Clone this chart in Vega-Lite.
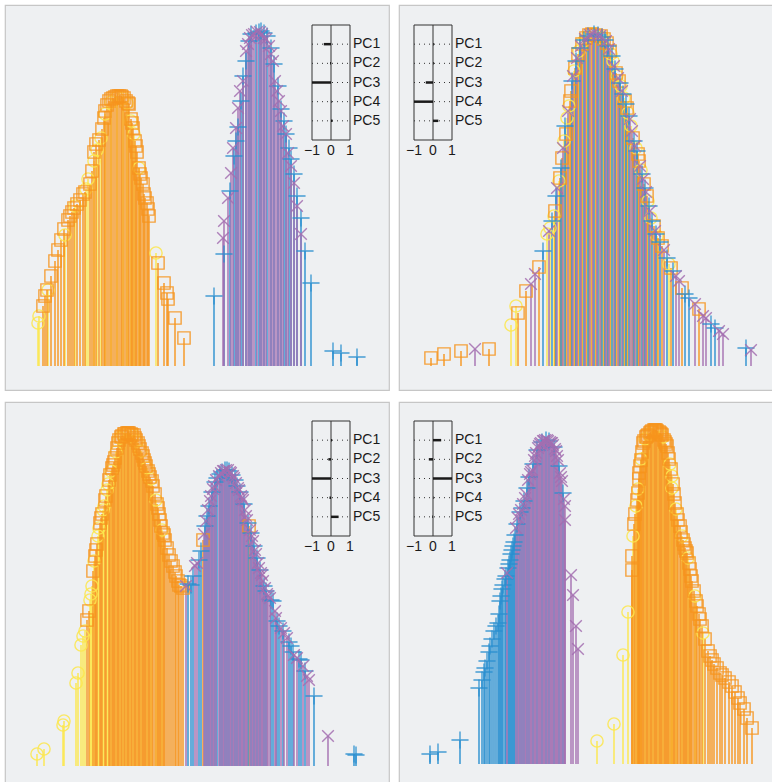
{
"$schema":"https://vega.github.io/schema/vega-lite/v6.json",
"padding":{"left":4,"top":4,"right":0,"bottom":0},
"background":"white",
"config":{"view":{"fill":"#eef0f2","stroke":"#c6c6c6","strokeWidth":1.2},"scale":{"continuousPadding":0}},
"datasets":{
"ticks":[{"v":-1},{"v":0},{"v":1}],
"load":[
{"p":1,"pc":1,"v":-0.38,"lab":"PC1"},{"p":1,"pc":2,"v":-0.05,"lab":"PC2"},{"p":1,"pc":3,"v":-1,"lab":"PC3"},{"p":1,"pc":4,"v":0.03,"lab":"PC4"},{"p":1,"pc":5,"v":0.08,"lab":"PC5"},
{"p":2,"pc":1,"v":0.04,"lab":"PC1"},{"p":2,"pc":2,"v":0.04,"lab":"PC2"},{"p":2,"pc":3,"v":-0.38,"lab":"PC3"},{"p":2,"pc":4,"v":-1,"lab":"PC4"},{"p":2,"pc":5,"v":0.28,"lab":"PC5"},
{"p":3,"pc":1,"v":0.05,"lab":"PC1"},{"p":3,"pc":2,"v":-0.14,"lab":"PC2"},{"p":3,"pc":3,"v":-1,"lab":"PC3"},{"p":3,"pc":4,"v":-0.08,"lab":"PC4"},{"p":3,"pc":5,"v":0.4,"lab":"PC5"},
{"p":4,"pc":1,"v":0.43,"lab":"PC1"},{"p":4,"pc":2,"v":-0.22,"lab":"PC2"},{"p":4,"pc":3,"v":1,"lab":"PC3"},{"p":4,"pc":4,"v":0.03,"lab":"PC4"},{"p":4,"pc":5,"v":-0.04,"lab":"PC5"}
],
"stems":[
{"p":1,"g":"y","x":33,"h":43},{"p":1,"g":"y","x":34,"h":50},{"p":1,"g":"y","x":43,"h":76},{"p":1,"g":"y","x":60,"h":131},{"p":1,"g":"y","x":70,"h":160},{"p":1,"g":"y","x":81,"h":177},{"p":1,"g":"y","x":83,"h":187},{"p":1,"g":"y","x":89,"h":205},{"p":1,"g":"y","x":92,"h":216},{"p":1,"g":"y","x":96,"h":228},{"p":1,"g":"y","x":100,"h":252},{"p":1,"g":"y","x":106,"h":264},{"p":1,"g":"y","x":112,"h":269},{"p":1,"g":"y","x":118,"h":268},{"p":1,"g":"y","x":122,"h":263},{"p":1,"g":"y","x":126,"h":245},{"p":1,"g":"y","x":129,"h":232},{"p":1,"g":"y","x":134,"h":198},{"p":1,"g":"y","x":151,"h":113},
{"p":1,"g":"o","x":38,"h":60},{"p":1,"g":"o","x":40,"h":70},{"p":1,"g":"o","x":42,"h":76},{"p":1,"g":"o","x":46,"h":90},{"p":1,"g":"o","x":50,"h":105},{"p":1,"g":"o","x":53,"h":116},{"p":1,"g":"o","x":56,"h":126},{"p":1,"g":"o","x":59,"h":137},{"p":1,"g":"o","x":63,"h":146},{"p":1,"g":"o","x":65,"h":150},{"p":1,"g":"o","x":67,"h":154},{"p":1,"g":"o","x":69,"h":158},{"p":1,"g":"o","x":72,"h":162},{"p":1,"g":"o","x":75,"h":166},{"p":1,"g":"o","x":78,"h":172},{"p":1,"g":"o","x":80,"h":174},{"p":1,"g":"o","x":85,"h":182},{"p":1,"g":"o","x":87,"h":195},{"p":1,"g":"o","x":89,"h":214},{"p":1,"g":"o","x":91,"h":222},{"p":1,"g":"o","x":94,"h":226},{"p":1,"g":"o","x":97,"h":237},{"p":1,"g":"o","x":99,"h":248},{"p":1,"g":"o","x":100,"h":255},{"p":1,"g":"o","x":102,"h":261},{"p":1,"g":"o","x":104,"h":265},{"p":1,"g":"o","x":106,"h":267},{"p":1,"g":"o","x":108,"h":268},{"p":1,"g":"o","x":110,"h":269},{"p":1,"g":"o","x":112,"h":270},{"p":1,"g":"o","x":114,"h":270},{"p":1,"g":"o","x":116,"h":270},{"p":1,"g":"o","x":117,"h":269},{"p":1,"g":"o","x":119,"h":268},{"p":1,"g":"o","x":121,"h":265},{"p":1,"g":"o","x":123,"h":263},{"p":1,"g":"o","x":124,"h":262},{"p":1,"g":"o","x":126,"h":247},{"p":1,"g":"o","x":127,"h":243},{"p":1,"g":"o","x":128,"h":238},{"p":1,"g":"o","x":130,"h":225},{"p":1,"g":"o","x":131,"h":220},{"p":1,"g":"o","x":132,"h":214},{"p":1,"g":"o","x":134,"h":198},{"p":1,"g":"o","x":135,"h":192},{"p":1,"g":"o","x":136,"h":188},{"p":1,"g":"o","x":138,"h":182},{"p":1,"g":"o","x":139,"h":172},{"p":1,"g":"o","x":140,"h":168},{"p":1,"g":"o","x":142,"h":163},{"p":1,"g":"o","x":143,"h":157},{"p":1,"g":"o","x":144,"h":150},{"p":1,"g":"o","x":153,"h":103},{"p":1,"g":"o","x":159,"h":83},{"p":1,"g":"o","x":162,"h":73},{"p":1,"g":"o","x":163,"h":67},{"p":1,"g":"o","x":170,"h":48},{"p":1,"g":"o","x":179,"h":28},
{"p":1,"g":"b","x":209,"h":70},{"p":1,"g":"b","x":219,"h":112},{"p":1,"g":"b","x":225,"h":175},{"p":1,"g":"b","x":229,"h":210},{"p":1,"g":"b","x":231,"h":225},{"p":1,"g":"b","x":233,"h":239},{"p":1,"g":"b","x":236,"h":265},{"p":1,"g":"b","x":238,"h":290},{"p":1,"g":"b","x":241,"h":305},{"p":1,"g":"b","x":244,"h":325},{"p":1,"g":"b","x":246,"h":332},{"p":1,"g":"b","x":251,"h":333},{"p":1,"g":"b","x":254,"h":334},{"p":1,"g":"b","x":256,"h":335},{"p":1,"g":"b","x":259,"h":333},{"p":1,"g":"b","x":262,"h":330},{"p":1,"g":"b","x":266,"h":318},{"p":1,"g":"b","x":269,"h":302},{"p":1,"g":"b","x":273,"h":280},{"p":1,"g":"b","x":276,"h":257},{"p":1,"g":"b","x":279,"h":245},{"p":1,"g":"b","x":281,"h":232},{"p":1,"g":"b","x":284,"h":218},{"p":1,"g":"b","x":286,"h":207},{"p":1,"g":"b","x":289,"h":192},{"p":1,"g":"b","x":292,"h":170},{"p":1,"g":"b","x":296,"h":148},{"p":1,"g":"b","x":300,"h":115},{"p":1,"g":"b","x":306,"h":83},{"p":1,"g":"b","x":328,"h":15},{"p":1,"g":"b","x":336,"h":13},{"p":1,"g":"b","x":352,"h":9},
{"p":1,"g":"u","x":218,"h":128},{"p":1,"g":"u","x":219,"h":145},{"p":1,"g":"u","x":223,"h":168},{"p":1,"g":"u","x":226,"h":193},{"p":1,"g":"u","x":228,"h":218},{"p":1,"g":"u","x":231,"h":238},{"p":1,"g":"u","x":233,"h":258},{"p":1,"g":"u","x":235,"h":275},{"p":1,"g":"u","x":238,"h":285},{"p":1,"g":"u","x":241,"h":315},{"p":1,"g":"u","x":243,"h":322},{"p":1,"g":"u","x":245,"h":328},{"p":1,"g":"u","x":247,"h":331},{"p":1,"g":"u","x":249,"h":332},{"p":1,"g":"u","x":252,"h":334},{"p":1,"g":"u","x":255,"h":334},{"p":1,"g":"u","x":257,"h":332},{"p":1,"g":"u","x":259,"h":328},{"p":1,"g":"u","x":261,"h":327},{"p":1,"g":"u","x":264,"h":320},{"p":1,"g":"u","x":266,"h":312},{"p":1,"g":"u","x":268,"h":305},{"p":1,"g":"u","x":270,"h":285},{"p":1,"g":"u","x":272,"h":275},{"p":1,"g":"u","x":274,"h":265},{"p":1,"g":"u","x":276,"h":255},{"p":1,"g":"u","x":278,"h":240},{"p":1,"g":"u","x":281,"h":232},{"p":1,"g":"u","x":283,"h":213},{"p":1,"g":"u","x":286,"h":200},{"p":1,"g":"u","x":289,"h":183},{"p":1,"g":"u","x":292,"h":160},{"p":1,"g":"u","x":296,"h":132},

{"p":2,"g":"y","x":112,"h":41},{"p":2,"g":"y","x":117,"h":60},{"p":2,"g":"y","x":148,"h":132},{"p":2,"g":"y","x":151,"h":138},{"p":2,"g":"y","x":155,"h":150},{"p":2,"g":"y","x":160,"h":185},{"p":2,"g":"y","x":165,"h":225},{"p":2,"g":"y","x":168,"h":248},{"p":2,"g":"y","x":170,"h":260},{"p":2,"g":"y","x":175,"h":295},{"p":2,"g":"y","x":180,"h":315},{"p":2,"g":"y","x":184,"h":324},{"p":2,"g":"y","x":188,"h":329},{"p":2,"g":"y","x":192,"h":332},{"p":2,"g":"y","x":196,"h":332},{"p":2,"g":"y","x":200,"h":330},{"p":2,"g":"y","x":204,"h":328},{"p":2,"g":"y","x":212,"h":312},{"p":2,"g":"y","x":214,"h":305},{"p":2,"g":"y","x":218,"h":290},{"p":2,"g":"y","x":222,"h":280},{"p":2,"g":"y","x":225,"h":268},{"p":2,"g":"y","x":229,"h":253},{"p":2,"g":"y","x":232,"h":240},{"p":2,"g":"y","x":237,"h":218},{"p":2,"g":"y","x":242,"h":196},{"p":2,"g":"y","x":249,"h":165},{"p":2,"g":"y","x":252,"h":148},{"p":2,"g":"y","x":258,"h":130},{"p":2,"g":"y","x":270,"h":102},
{"p":2,"g":"o","x":32,"h":8},{"p":2,"g":"o","x":45,"h":12},{"p":2,"g":"o","x":62,"h":15},{"p":2,"g":"o","x":90,"h":17},{"p":2,"g":"o","x":119,"h":53},{"p":2,"g":"o","x":127,"h":75},{"p":2,"g":"o","x":140,"h":99},{"p":2,"g":"o","x":156,"h":155},{"p":2,"g":"o","x":161,"h":188},{"p":2,"g":"o","x":163,"h":208},{"p":2,"g":"o","x":167,"h":232},{"p":2,"g":"o","x":171,"h":265},{"p":2,"g":"o","x":172,"h":275},{"p":2,"g":"o","x":176,"h":298},{"p":2,"g":"o","x":179,"h":312},{"p":2,"g":"o","x":183,"h":322},{"p":2,"g":"o","x":187,"h":328},{"p":2,"g":"o","x":190,"h":331},{"p":2,"g":"o","x":193,"h":332},{"p":2,"g":"o","x":197,"h":331},{"p":2,"g":"o","x":202,"h":330},{"p":2,"g":"o","x":205,"h":327},{"p":2,"g":"o","x":208,"h":323},{"p":2,"g":"o","x":211,"h":315},{"p":2,"g":"o","x":217,"h":293},{"p":2,"g":"o","x":220,"h":285},{"p":2,"g":"o","x":226,"h":265},{"p":2,"g":"o","x":228,"h":258},{"p":2,"g":"o","x":234,"h":228},{"p":2,"g":"o","x":239,"h":212},{"p":2,"g":"o","x":240,"h":205},{"p":2,"g":"o","x":245,"h":182},{"p":2,"g":"o","x":248,"h":170},{"p":2,"g":"o","x":255,"h":140},{"p":2,"g":"o","x":259,"h":128},{"p":2,"g":"o","x":263,"h":120},{"p":2,"g":"o","x":272,"h":98},{"p":2,"g":"o","x":283,"h":78},{"p":2,"g":"o","x":300,"h":57},
{"p":2,"g":"b","x":144,"h":115},{"p":2,"g":"b","x":153,"h":145},{"p":2,"g":"b","x":157,"h":170},{"p":2,"g":"b","x":162,"h":198},{"p":2,"g":"b","x":166,"h":240},{"p":2,"g":"b","x":173,"h":285},{"p":2,"g":"b","x":177,"h":305},{"p":2,"g":"b","x":181,"h":318},{"p":2,"g":"b","x":185,"h":326},{"p":2,"g":"b","x":189,"h":330},{"p":2,"g":"b","x":195,"h":332},{"p":2,"g":"b","x":199,"h":331},{"p":2,"g":"b","x":203,"h":329},{"p":2,"g":"b","x":206,"h":326},{"p":2,"g":"b","x":209,"h":320},{"p":2,"g":"b","x":213,"h":310},{"p":2,"g":"b","x":216,"h":297},{"p":2,"g":"b","x":221,"h":283},{"p":2,"g":"b","x":224,"h":272},{"p":2,"g":"b","x":227,"h":262},{"p":2,"g":"b","x":230,"h":250},{"p":2,"g":"b","x":235,"h":225},{"p":2,"g":"b","x":238,"h":215},{"p":2,"g":"b","x":243,"h":192},{"p":2,"g":"b","x":246,"h":178},{"p":2,"g":"b","x":250,"h":160},{"p":2,"g":"b","x":253,"h":145},{"p":2,"g":"b","x":257,"h":132},{"p":2,"g":"b","x":261,"h":124},{"p":2,"g":"b","x":268,"h":108},{"p":2,"g":"b","x":274,"h":95},{"p":2,"g":"b","x":286,"h":72},{"p":2,"g":"b","x":290,"h":68},{"p":2,"g":"b","x":312,"h":42},{"p":2,"g":"b","x":316,"h":38},{"p":2,"g":"b","x":347,"h":18},
{"p":2,"g":"u","x":76,"h":17},{"p":2,"g":"u","x":132,"h":82},{"p":2,"g":"u","x":136,"h":92},{"p":2,"g":"u","x":150,"h":135},{"p":2,"g":"u","x":158,"h":178},{"p":2,"g":"u","x":164,"h":218},{"p":2,"g":"u","x":169,"h":255},{"p":2,"g":"u","x":174,"h":290},{"p":2,"g":"u","x":178,"h":308},{"p":2,"g":"u","x":182,"h":320},{"p":2,"g":"u","x":186,"h":327},{"p":2,"g":"u","x":191,"h":331},{"p":2,"g":"u","x":194,"h":332},{"p":2,"g":"u","x":198,"h":331},{"p":2,"g":"u","x":201,"h":330},{"p":2,"g":"u","x":207,"h":325},{"p":2,"g":"u","x":210,"h":317},{"p":2,"g":"u","x":215,"h":300},{"p":2,"g":"u","x":219,"h":288},{"p":2,"g":"u","x":223,"h":275},{"p":2,"g":"u","x":231,"h":247},{"p":2,"g":"u","x":233,"h":235},{"p":2,"g":"u","x":236,"h":220},{"p":2,"g":"u","x":241,"h":200},{"p":2,"g":"u","x":244,"h":187},{"p":2,"g":"u","x":247,"h":174},{"p":2,"g":"u","x":251,"h":155},{"p":2,"g":"u","x":256,"h":135},{"p":2,"g":"u","x":265,"h":116},{"p":2,"g":"u","x":277,"h":90},{"p":2,"g":"u","x":280,"h":85},{"p":2,"g":"u","x":296,"h":62},{"p":2,"g":"u","x":304,"h":50},{"p":2,"g":"u","x":307,"h":48},{"p":2,"g":"u","x":320,"h":35},{"p":2,"g":"u","x":324,"h":32},{"p":2,"g":"u","x":352,"h":16},

{"p":3,"g":"y","x":32,"h":12},{"p":3,"g":"y","x":39,"h":17},{"p":3,"g":"y","x":58,"h":41},{"p":3,"g":"y","x":59,"h":45},{"p":3,"g":"y","x":71,"h":83},{"p":3,"g":"y","x":73,"h":93},{"p":3,"g":"y","x":76,"h":121},{"p":3,"g":"y","x":78,"h":130},{"p":3,"g":"y","x":80,"h":135},{"p":3,"g":"y","x":85,"h":166},{"p":3,"g":"y","x":86,"h":172},{"p":3,"g":"y","x":87,"h":180},{"p":3,"g":"y","x":89,"h":205},{"p":3,"g":"y","x":93,"h":230},{"p":3,"g":"y","x":94,"h":238},{"p":3,"g":"y","x":98,"h":256},{"p":3,"g":"y","x":99,"h":260},{"p":3,"g":"y","x":102,"h":276},{"p":3,"g":"y","x":103,"h":282},{"p":3,"g":"y","x":106,"h":295},{"p":3,"g":"y","x":111,"h":314},{"p":3,"g":"y","x":115,"h":328},{"p":3,"g":"y","x":118,"h":331},{"p":3,"g":"y","x":121,"h":333},{"p":3,"g":"y","x":125,"h":332},{"p":3,"g":"y","x":128,"h":331},{"p":3,"g":"y","x":132,"h":325},{"p":3,"g":"y","x":136,"h":315},{"p":3,"g":"y","x":142,"h":298},{"p":3,"g":"y","x":146,"h":287},{"p":3,"g":"y","x":151,"h":266},{"p":3,"g":"y","x":157,"h":236},
{"p":3,"g":"o","x":82,"h":146},{"p":3,"g":"o","x":84,"h":155},{"p":3,"g":"o","x":88,"h":195},{"p":3,"g":"o","x":90,"h":210},{"p":3,"g":"o","x":91,"h":216},{"p":3,"g":"o","x":92,"h":222},{"p":3,"g":"o","x":95,"h":243},{"p":3,"g":"o","x":96,"h":248},{"p":3,"g":"o","x":97,"h":252},{"p":3,"g":"o","x":100,"h":266},{"p":3,"g":"o","x":101,"h":270},{"p":3,"g":"o","x":104,"h":286},{"p":3,"g":"o","x":105,"h":291},{"p":3,"g":"o","x":107,"h":298},{"p":3,"g":"o","x":108,"h":301},{"p":3,"g":"o","x":109,"h":304},{"p":3,"g":"o","x":110,"h":308},{"p":3,"g":"o","x":112,"h":318},{"p":3,"g":"o","x":113,"h":323},{"p":3,"g":"o","x":114,"h":326},{"p":3,"g":"o","x":116,"h":329},{"p":3,"g":"o","x":117,"h":330},{"p":3,"g":"o","x":119,"h":332},{"p":3,"g":"o","x":120,"h":332},{"p":3,"g":"o","x":122,"h":333},{"p":3,"g":"o","x":123,"h":333},{"p":3,"g":"o","x":124,"h":333},{"p":3,"g":"o","x":126,"h":332},{"p":3,"g":"o","x":127,"h":331},{"p":3,"g":"o","x":129,"h":331},{"p":3,"g":"o","x":130,"h":328},{"p":3,"g":"o","x":131,"h":326},{"p":3,"g":"o","x":133,"h":323},{"p":3,"g":"o","x":134,"h":320},{"p":3,"g":"o","x":135,"h":317},{"p":3,"g":"o","x":137,"h":313},{"p":3,"g":"o","x":138,"h":310},{"p":3,"g":"o","x":139,"h":306},{"p":3,"g":"o","x":140,"h":303},{"p":3,"g":"o","x":141,"h":300},{"p":3,"g":"o","x":143,"h":295},{"p":3,"g":"o","x":144,"h":292},{"p":3,"g":"o","x":145,"h":289},{"p":3,"g":"o","x":147,"h":285},{"p":3,"g":"o","x":148,"h":280},{"p":3,"g":"o","x":150,"h":272},{"p":3,"g":"o","x":152,"h":262},{"p":3,"g":"o","x":153,"h":258},{"p":3,"g":"o","x":154,"h":252},{"p":3,"g":"o","x":155,"h":246},{"p":3,"g":"o","x":156,"h":240},{"p":3,"g":"o","x":158,"h":233},{"p":3,"g":"o","x":159,"h":231},{"p":3,"g":"o","x":160,"h":226},{"p":3,"g":"o","x":162,"h":218},{"p":3,"g":"o","x":164,"h":211},{"p":3,"g":"o","x":166,"h":205},{"p":3,"g":"o","x":168,"h":200},{"p":3,"g":"o","x":170,"h":194},{"p":3,"g":"o","x":171,"h":190},{"p":3,"g":"o","x":173,"h":185},{"p":3,"g":"o","x":174,"h":181},{"p":3,"g":"o","x":176,"h":180},{"p":3,"g":"o","x":178,"h":178},{"p":3,"g":"o","x":198,"h":226},{"p":3,"g":"o","x":244,"h":240},
{"p":3,"g":"b","x":183,"h":182},{"p":3,"g":"b","x":186,"h":181},{"p":3,"g":"b","x":188,"h":190},{"p":3,"g":"b","x":194,"h":206},{"p":3,"g":"b","x":196,"h":215},{"p":3,"g":"b","x":200,"h":240},{"p":3,"g":"b","x":202,"h":250},{"p":3,"g":"b","x":204,"h":260},{"p":3,"g":"b","x":207,"h":274},{"p":3,"g":"b","x":210,"h":284},{"p":3,"g":"b","x":212,"h":288},{"p":3,"g":"b","x":215,"h":292},{"p":3,"g":"b","x":217,"h":294},{"p":3,"g":"b","x":220,"h":296},{"p":3,"g":"b","x":222,"h":296},{"p":3,"g":"b","x":224,"h":295},{"p":3,"g":"b","x":227,"h":291},{"p":3,"g":"b","x":230,"h":286},{"p":3,"g":"b","x":232,"h":280},{"p":3,"g":"b","x":235,"h":274},{"p":3,"g":"b","x":239,"h":262},{"p":3,"g":"b","x":243,"h":243},{"p":3,"g":"b","x":246,"h":233},{"p":3,"g":"b","x":249,"h":220},{"p":3,"g":"b","x":252,"h":208},{"p":3,"g":"b","x":255,"h":196},{"p":3,"g":"b","x":259,"h":180},{"p":3,"g":"b","x":261,"h":175},{"p":3,"g":"b","x":266,"h":166},{"p":3,"g":"b","x":268,"h":165},{"p":3,"g":"b","x":272,"h":145},{"p":3,"g":"b","x":274,"h":140},{"p":3,"g":"b","x":278,"h":135},{"p":3,"g":"b","x":284,"h":124},{"p":3,"g":"b","x":286,"h":120},{"p":3,"g":"b","x":288,"h":114},{"p":3,"g":"b","x":294,"h":107},{"p":3,"g":"b","x":296,"h":106},{"p":3,"g":"b","x":300,"h":95},{"p":3,"g":"b","x":309,"h":70},{"p":3,"g":"b","x":349,"h":12},{"p":3,"g":"b","x":351,"h":11},
{"p":3,"g":"u","x":181,"h":180},{"p":3,"g":"u","x":190,"h":200},{"p":3,"g":"u","x":192,"h":203},{"p":3,"g":"u","x":199,"h":232},{"p":3,"g":"u","x":201,"h":245},{"p":3,"g":"u","x":203,"h":256},{"p":3,"g":"u","x":205,"h":265},{"p":3,"g":"u","x":206,"h":270},{"p":3,"g":"u","x":208,"h":277},{"p":3,"g":"u","x":209,"h":280},{"p":3,"g":"u","x":211,"h":286},{"p":3,"g":"u","x":214,"h":290},{"p":3,"g":"u","x":216,"h":293},{"p":3,"g":"u","x":218,"h":295},{"p":3,"g":"u","x":219,"h":295},{"p":3,"g":"u","x":221,"h":296},{"p":3,"g":"u","x":223,"h":296},{"p":3,"g":"u","x":225,"h":294},{"p":3,"g":"u","x":226,"h":293},{"p":3,"g":"u","x":228,"h":290},{"p":3,"g":"u","x":229,"h":288},{"p":3,"g":"u","x":231,"h":283},{"p":3,"g":"u","x":233,"h":278},{"p":3,"g":"u","x":234,"h":276},{"p":3,"g":"u","x":236,"h":270},{"p":3,"g":"u","x":237,"h":268},{"p":3,"g":"u","x":238,"h":266},{"p":3,"g":"u","x":240,"h":256},{"p":3,"g":"u","x":241,"h":250},{"p":3,"g":"u","x":242,"h":246},{"p":3,"g":"u","x":245,"h":236},{"p":3,"g":"u","x":247,"h":230},{"p":3,"g":"u","x":248,"h":225},{"p":3,"g":"u","x":250,"h":216},{"p":3,"g":"u","x":251,"h":212},{"p":3,"g":"u","x":253,"h":203},{"p":3,"g":"u","x":254,"h":198},{"p":3,"g":"u","x":256,"h":193},{"p":3,"g":"u","x":257,"h":191},{"p":3,"g":"u","x":258,"h":185},{"p":3,"g":"u","x":260,"h":178},{"p":3,"g":"u","x":262,"h":172},{"p":3,"g":"u","x":263,"h":170},{"p":3,"g":"u","x":265,"h":168},{"p":3,"g":"u","x":270,"h":155},{"p":3,"g":"u","x":271,"h":148},{"p":3,"g":"u","x":276,"h":138},{"p":3,"g":"u","x":279,"h":133},{"p":3,"g":"u","x":282,"h":128},{"p":3,"g":"u","x":289,"h":111},{"p":3,"g":"u","x":292,"h":108},{"p":3,"g":"u","x":298,"h":100},{"p":3,"g":"u","x":302,"h":90},{"p":3,"g":"u","x":304,"h":86},{"p":3,"g":"u","x":323,"h":30},

{"p":4,"g":"y","x":198,"h":23},{"p":4,"g":"y","x":215,"h":40},{"p":4,"g":"y","x":224,"h":109},{"p":4,"g":"y","x":229,"h":152},{"p":4,"g":"y","x":234,"h":228},{"p":4,"g":"y","x":237,"h":258},{"p":4,"g":"y","x":239,"h":275},{"p":4,"g":"y","x":242,"h":305},{"p":4,"g":"y","x":246,"h":325},{"p":4,"g":"y","x":250,"h":330},{"p":4,"g":"y","x":254,"h":333},{"p":4,"g":"y","x":259,"h":333},{"p":4,"g":"y","x":264,"h":327},{"p":4,"g":"y","x":271,"h":300},{"p":4,"g":"y","x":273,"h":288},{"p":4,"g":"y","x":273,"h":276},{"p":4,"g":"y","x":277,"h":255},{"p":4,"g":"y","x":283,"h":228},{"p":4,"g":"y","x":289,"h":206},{"p":4,"g":"y","x":296,"h":168},{"p":4,"g":"y","x":304,"h":131},
{"p":4,"g":"o","x":233,"h":194},{"p":4,"g":"o","x":233,"h":208},{"p":4,"g":"o","x":235,"h":240},{"p":4,"g":"o","x":236,"h":250},{"p":4,"g":"o","x":238,"h":264},{"p":4,"g":"o","x":239,"h":271},{"p":4,"g":"o","x":240,"h":285},{"p":4,"g":"o","x":240,"h":291},{"p":4,"g":"o","x":241,"h":298},{"p":4,"g":"o","x":242,"h":304},{"p":4,"g":"o","x":243,"h":312},{"p":4,"g":"o","x":244,"h":321},{"p":4,"g":"o","x":245,"h":323},{"p":4,"g":"o","x":247,"h":327},{"p":4,"g":"o","x":248,"h":328},{"p":4,"g":"o","x":249,"h":329},{"p":4,"g":"o","x":251,"h":331},{"p":4,"g":"o","x":252,"h":332},{"p":4,"g":"o","x":253,"h":333},{"p":4,"g":"o","x":255,"h":334},{"p":4,"g":"o","x":256,"h":334},{"p":4,"g":"o","x":257,"h":334},{"p":4,"g":"o","x":258,"h":333},{"p":4,"g":"o","x":260,"h":332},{"p":4,"g":"o","x":261,"h":331},{"p":4,"g":"o","x":262,"h":330},{"p":4,"g":"o","x":263,"h":329},{"p":4,"g":"o","x":265,"h":324},{"p":4,"g":"o","x":266,"h":322},{"p":4,"g":"o","x":267,"h":320},{"p":4,"g":"o","x":268,"h":318},{"p":4,"g":"o","x":269,"h":311},{"p":4,"g":"o","x":270,"h":305},{"p":4,"g":"o","x":272,"h":295},{"p":4,"g":"o","x":274,"h":280},{"p":4,"g":"o","x":275,"h":270},{"p":4,"g":"o","x":276,"h":261},{"p":4,"g":"o","x":278,"h":250},{"p":4,"g":"o","x":279,"h":244},{"p":4,"g":"o","x":281,"h":238},{"p":4,"g":"o","x":282,"h":232},{"p":4,"g":"o","x":284,"h":224},{"p":4,"g":"o","x":285,"h":220},{"p":4,"g":"o","x":286,"h":216},{"p":4,"g":"o","x":287,"h":213},{"p":4,"g":"o","x":288,"h":211},{"p":4,"g":"o","x":290,"h":201},{"p":4,"g":"o","x":291,"h":195},{"p":4,"g":"o","x":292,"h":188},{"p":4,"g":"o","x":293,"h":183},{"p":4,"g":"o","x":295,"h":173},{"p":4,"g":"o","x":297,"h":163},{"p":4,"g":"o","x":298,"h":158},{"p":4,"g":"o","x":300,"h":150},{"p":4,"g":"o","x":301,"h":145},{"p":4,"g":"o","x":303,"h":138},{"p":4,"g":"o","x":306,"h":125},{"p":4,"g":"o","x":309,"h":113},{"p":4,"g":"o","x":311,"h":108},{"p":4,"g":"o","x":313,"h":104},{"p":4,"g":"o","x":315,"h":100},{"p":4,"g":"o","x":318,"h":96},{"p":4,"g":"o","x":321,"h":91},{"p":4,"g":"o","x":323,"h":89},{"p":4,"g":"o","x":326,"h":86},{"p":4,"g":"o","x":330,"h":82},{"p":4,"g":"o","x":333,"h":78},{"p":4,"g":"o","x":336,"h":72},{"p":4,"g":"o","x":339,"h":66},{"p":4,"g":"o","x":341,"h":61},{"p":4,"g":"o","x":345,"h":55},{"p":4,"g":"o","x":348,"h":46},{"p":4,"g":"o","x":353,"h":36},
{"p":4,"g":"b","x":31,"h":10},{"p":4,"g":"b","x":39,"h":12},{"p":4,"g":"b","x":61,"h":24},{"p":4,"g":"b","x":80,"h":76},{"p":4,"g":"b","x":83,"h":84},{"p":4,"g":"b","x":85,"h":92},{"p":4,"g":"b","x":86,"h":96},{"p":4,"g":"b","x":88,"h":103},{"p":4,"g":"b","x":90,"h":112},{"p":4,"g":"b","x":91,"h":118},{"p":4,"g":"b","x":93,"h":125},{"p":4,"g":"b","x":95,"h":133},{"p":4,"g":"b","x":97,"h":138},{"p":4,"g":"b","x":99,"h":141},{"p":4,"g":"b","x":100,"h":150},{"p":4,"g":"b","x":101,"h":163},{"p":4,"g":"b","x":102,"h":168},{"p":4,"g":"b","x":103,"h":175},{"p":4,"g":"b","x":104,"h":179},{"p":4,"g":"b","x":106,"h":185},{"p":4,"g":"b","x":107,"h":188},{"p":4,"g":"b","x":109,"h":196},{"p":4,"g":"b","x":110,"h":200},{"p":4,"g":"b","x":111,"h":204},{"p":4,"g":"b","x":112,"h":210},{"p":4,"g":"b","x":113,"h":214},{"p":4,"g":"b","x":114,"h":218},{"p":4,"g":"b","x":115,"h":222},{"p":4,"g":"b","x":116,"h":229},{"p":4,"g":"b","x":118,"h":240},{"p":4,"g":"b","x":121,"h":252},{"p":4,"g":"b","x":123,"h":256},{"p":4,"g":"b","x":125,"h":263},{"p":4,"g":"b","x":128,"h":276},{"p":4,"g":"b","x":130,"h":287},{"p":4,"g":"b","x":134,"h":300},{"p":4,"g":"b","x":138,"h":314},{"p":4,"g":"b","x":143,"h":322},{"p":4,"g":"b","x":147,"h":324},{"p":4,"g":"b","x":150,"h":323},{"p":4,"g":"b","x":155,"h":317},{"p":4,"g":"b","x":160,"h":298},{"p":4,"g":"b","x":164,"h":271},
{"p":4,"g":"u","x":108,"h":191},{"p":4,"g":"u","x":117,"h":236},{"p":4,"g":"u","x":119,"h":246},{"p":4,"g":"u","x":120,"h":250},{"p":4,"g":"u","x":122,"h":254},{"p":4,"g":"u","x":124,"h":260},{"p":4,"g":"u","x":126,"h":266},{"p":4,"g":"u","x":127,"h":270},{"p":4,"g":"u","x":129,"h":284},{"p":4,"g":"u","x":131,"h":290},{"p":4,"g":"u","x":132,"h":292},{"p":4,"g":"u","x":133,"h":294},{"p":4,"g":"u","x":135,"h":304},{"p":4,"g":"u","x":136,"h":308},{"p":4,"g":"u","x":137,"h":311},{"p":4,"g":"u","x":139,"h":316},{"p":4,"g":"u","x":140,"h":318},{"p":4,"g":"u","x":141,"h":320},{"p":4,"g":"u","x":142,"h":321},{"p":4,"g":"u","x":144,"h":323},{"p":4,"g":"u","x":145,"h":323},{"p":4,"g":"u","x":146,"h":324},{"p":4,"g":"u","x":148,"h":324},{"p":4,"g":"u","x":149,"h":323},{"p":4,"g":"u","x":151,"h":322},{"p":4,"g":"u","x":152,"h":321},{"p":4,"g":"u","x":153,"h":321},{"p":4,"g":"u","x":154,"h":319},{"p":4,"g":"u","x":156,"h":315},{"p":4,"g":"u","x":157,"h":313},{"p":4,"g":"u","x":158,"h":308},{"p":4,"g":"u","x":159,"h":304},{"p":4,"g":"u","x":161,"h":291},{"p":4,"g":"u","x":162,"h":287},{"p":4,"g":"u","x":163,"h":283},{"p":4,"g":"u","x":165,"h":265},{"p":4,"g":"u","x":166,"h":258},{"p":4,"g":"u","x":166,"h":244},{"p":4,"g":"u","x":172,"h":189},{"p":4,"g":"u","x":174,"h":169},{"p":4,"g":"u","x":177,"h":138},{"p":4,"g":"u","x":179,"h":115}
]
},
"vconcat":[
{"hconcat":[
{"width":384,"height":385,"resolve":{"scale":{"x":"independent","y":"independent"}},
 "layer":[
  {"data":{"name":"stems"},"transform":[{"filter":"datum.p==1"}],
   "encoding":{"x":{"field":"x","type":"quantitative","scale":{"domain":[0,384],"padding":0},"axis":null},
    "y":{"field":"h","type":"quantitative","scale":{"domain":[-24,361],"padding":0},"axis":null,"stack":null},
    "color":{"field":"g","type":"nominal","scale":{"domain":["y","o","b","u"],"range":["#fde74c","#f7941d","#2a8fd0","#a46eb1"]},"legend":null}},
   "layer":[
    {"mark":{"type":"bar","width":1.6,"opacity":0.88}},
    {"mark":{"type":"point","filled":false,"size":150,"strokeWidth":1.4,"opacity":0.85},
     "encoding":{"shape":{"field":"g","type":"nominal","scale":{"domain":["y","o","b","u"],"range":["circle","M-1,-1H1V1H-1Z","M-1.4,0H1.4M0,-1.4V1.4","M-0.95,-0.95L0.95,0.95M-0.95,0.95L0.95,-0.95"]},"legend":null}}}
   ]},
  {"data":{"name":"load"},"transform":[{"filter":"datum.p==1"}],
   "layer":[
    {"transform":[{"filter":"datum.pc==1"}],"mark":{"type":"rect","fill":"transparent","stroke":"#333333","strokeWidth":1},
     "encoding":{"x":{"datum":-1,"type":"quantitative","scale":{"domain":[-1,1],"range":[307,345],"padding":0},"axis":null},"x2":{"datum":1},
      "y":{"datum":0,"type":"quantitative","scale":{"domain":[0,6],"range":[20,135],"padding":0},"axis":null},"y2":{"datum":6}}},
    {"transform":[{"filter":"datum.pc==1"}],"mark":{"type":"rule","color":"#333333","strokeWidth":1},
     "encoding":{"x":{"datum":0,"type":"quantitative","axis":null},"y":{"datum":0,"type":"quantitative","axis":null},"y2":{"datum":6}}},
    {"mark":{"type":"rule","color":"#333333","strokeWidth":1,"strokeDash":[1,4]},
     "encoding":{"x":{"datum":-1,"type":"quantitative","axis":null},"x2":{"datum":1},"y":{"field":"pc","type":"quantitative","axis":null}}},
    {"mark":{"type":"bar","orient":"horizontal","color":"#1a1a1a","height":2.5},
     "encoding":{"x":{"field":"v","type":"quantitative","axis":null,"stack":null},"y":{"field":"pc","type":"quantitative","axis":null}}},
    {"mark":{"type":"text","align":"left","baseline":"middle","dx":3,"font":"Liberation Sans","fontSize":14,"color":"#1a1a1a"},
     "encoding":{"x":{"datum":1,"type":"quantitative","axis":null},"y":{"field":"pc","type":"quantitative","axis":null},"text":{"field":"lab","type":"nominal"}}},
    {"data":{"name":"ticks"},"mark":{"type":"text","align":"center","baseline":"middle","dy":11,"font":"Liberation Sans","fontSize":14,"color":"#1a1a1a"},
     "encoding":{"x":{"field":"v","type":"quantitative","axis":null},"y":{"datum":6,"type":"quantitative","axis":null},"text":{"field":"v","type":"quantitative","format":"d"}}}
   ]}
 ]},
{"width":384,"height":385,"resolve":{"scale":{"x":"independent","y":"independent"}},
 "layer":[
  {"data":{"name":"stems"},"transform":[{"filter":"datum.p==2"}],
   "encoding":{"x":{"field":"x","type":"quantitative","scale":{"domain":[0,384],"padding":0},"axis":null},
    "y":{"field":"h","type":"quantitative","scale":{"domain":[-24,361],"padding":0},"axis":null,"stack":null},
    "color":{"field":"g","type":"nominal","scale":{"domain":["y","o","b","u"],"range":["#fde74c","#f7941d","#2a8fd0","#a46eb1"]},"legend":null}},
   "layer":[
    {"mark":{"type":"bar","width":1.6,"opacity":0.88}},
    {"mark":{"type":"point","filled":false,"size":150,"strokeWidth":1.4,"opacity":0.85},
     "encoding":{"shape":{"field":"g","type":"nominal","scale":{"domain":["y","o","b","u"],"range":["circle","M-1,-1H1V1H-1Z","M-1.4,0H1.4M0,-1.4V1.4","M-0.95,-0.95L0.95,0.95M-0.95,0.95L0.95,-0.95"]},"legend":null}}}
   ]},
  {"data":{"name":"load"},"transform":[{"filter":"datum.p==2"}],
   "layer":[
    {"transform":[{"filter":"datum.pc==1"}],"mark":{"type":"rect","fill":"transparent","stroke":"#333333","strokeWidth":1},
     "encoding":{"x":{"datum":-1,"type":"quantitative","scale":{"domain":[-1,1],"range":[15,53],"padding":0},"axis":null},"x2":{"datum":1},
      "y":{"datum":0,"type":"quantitative","scale":{"domain":[0,6],"range":[20,135],"padding":0},"axis":null},"y2":{"datum":6}}},
    {"transform":[{"filter":"datum.pc==1"}],"mark":{"type":"rule","color":"#333333","strokeWidth":1},
     "encoding":{"x":{"datum":0,"type":"quantitative","axis":null},"y":{"datum":0,"type":"quantitative","axis":null},"y2":{"datum":6}}},
    {"mark":{"type":"rule","color":"#333333","strokeWidth":1,"strokeDash":[1,4]},
     "encoding":{"x":{"datum":-1,"type":"quantitative","axis":null},"x2":{"datum":1},"y":{"field":"pc","type":"quantitative","axis":null}}},
    {"mark":{"type":"bar","orient":"horizontal","color":"#1a1a1a","height":2.5},
     "encoding":{"x":{"field":"v","type":"quantitative","axis":null,"stack":null},"y":{"field":"pc","type":"quantitative","axis":null}}},
    {"mark":{"type":"text","align":"left","baseline":"middle","dx":3,"font":"Liberation Sans","fontSize":14,"color":"#1a1a1a"},
     "encoding":{"x":{"datum":1,"type":"quantitative","axis":null},"y":{"field":"pc","type":"quantitative","axis":null},"text":{"field":"lab","type":"nominal"}}},
    {"data":{"name":"ticks"},"mark":{"type":"text","align":"center","baseline":"middle","dy":11,"font":"Liberation Sans","fontSize":14,"color":"#1a1a1a"},
     "encoding":{"x":{"field":"v","type":"quantitative","axis":null},"y":{"datum":6,"type":"quantitative","axis":null},"text":{"field":"v","type":"quantitative","format":"d"}}}
   ]}
 ]}
],"spacing":8},
{"hconcat":[
{"width":384,"height":385,"resolve":{"scale":{"x":"independent","y":"independent"}},
 "layer":[
  {"data":{"name":"stems"},"transform":[{"filter":"datum.p==3"}],
   "encoding":{"x":{"field":"x","type":"quantitative","scale":{"domain":[0,384],"padding":0},"axis":null},
    "y":{"field":"h","type":"quantitative","scale":{"domain":[-21,364],"padding":0},"axis":null,"stack":null},
    "color":{"field":"g","type":"nominal","scale":{"domain":["y","o","b","u"],"range":["#fde74c","#f7941d","#2a8fd0","#a46eb1"]},"legend":null}},
   "layer":[
    {"mark":{"type":"bar","width":1.6,"opacity":0.88}},
    {"mark":{"type":"point","filled":false,"size":150,"strokeWidth":1.4,"opacity":0.85},
     "encoding":{"shape":{"field":"g","type":"nominal","scale":{"domain":["y","o","b","u"],"range":["circle","M-1,-1H1V1H-1Z","M-1.4,0H1.4M0,-1.4V1.4","M-0.95,-0.95L0.95,0.95M-0.95,0.95L0.95,-0.95"]},"legend":null}}}
   ]},
  {"data":{"name":"load"},"transform":[{"filter":"datum.p==3"}],
   "layer":[
    {"transform":[{"filter":"datum.pc==1"}],"mark":{"type":"rect","fill":"transparent","stroke":"#333333","strokeWidth":1},
     "encoding":{"x":{"datum":-1,"type":"quantitative","scale":{"domain":[-1,1],"range":[307,345],"padding":0},"axis":null},"x2":{"datum":1},
      "y":{"datum":0,"type":"quantitative","scale":{"domain":[0,6],"range":[19,134],"padding":0},"axis":null},"y2":{"datum":6}}},
    {"transform":[{"filter":"datum.pc==1"}],"mark":{"type":"rule","color":"#333333","strokeWidth":1},
     "encoding":{"x":{"datum":0,"type":"quantitative","axis":null},"y":{"datum":0,"type":"quantitative","axis":null},"y2":{"datum":6}}},
    {"mark":{"type":"rule","color":"#333333","strokeWidth":1,"strokeDash":[1,4]},
     "encoding":{"x":{"datum":-1,"type":"quantitative","axis":null},"x2":{"datum":1},"y":{"field":"pc","type":"quantitative","axis":null}}},
    {"mark":{"type":"bar","orient":"horizontal","color":"#1a1a1a","height":2.5},
     "encoding":{"x":{"field":"v","type":"quantitative","axis":null,"stack":null},"y":{"field":"pc","type":"quantitative","axis":null}}},
    {"mark":{"type":"text","align":"left","baseline":"middle","dx":3,"font":"Liberation Sans","fontSize":14,"color":"#1a1a1a"},
     "encoding":{"x":{"datum":1,"type":"quantitative","axis":null},"y":{"field":"pc","type":"quantitative","axis":null},"text":{"field":"lab","type":"nominal"}}},
    {"data":{"name":"ticks"},"mark":{"type":"text","align":"center","baseline":"middle","dy":11,"font":"Liberation Sans","fontSize":14,"color":"#1a1a1a"},
     "encoding":{"x":{"field":"v","type":"quantitative","axis":null},"y":{"datum":6,"type":"quantitative","axis":null},"text":{"field":"v","type":"quantitative","format":"d"}}}
   ]}
 ]},
{"width":384,"height":385,"resolve":{"scale":{"x":"independent","y":"independent"}},
 "layer":[
  {"data":{"name":"stems"},"transform":[{"filter":"datum.p==4"}],
   "encoding":{"x":{"field":"x","type":"quantitative","scale":{"domain":[0,384],"padding":0},"axis":null},
    "y":{"field":"h","type":"quantitative","scale":{"domain":[-23,362],"padding":0},"axis":null,"stack":null},
    "color":{"field":"g","type":"nominal","scale":{"domain":["y","o","b","u"],"range":["#fde74c","#f7941d","#2a8fd0","#a46eb1"]},"legend":null}},
   "layer":[
    {"mark":{"type":"bar","width":1.6,"opacity":0.88}},
    {"mark":{"type":"point","filled":false,"size":150,"strokeWidth":1.4,"opacity":0.85},
     "encoding":{"shape":{"field":"g","type":"nominal","scale":{"domain":["y","o","b","u"],"range":["circle","M-1,-1H1V1H-1Z","M-1.4,0H1.4M0,-1.4V1.4","M-0.95,-0.95L0.95,0.95M-0.95,0.95L0.95,-0.95"]},"legend":null}}}
   ]},
  {"data":{"name":"load"},"transform":[{"filter":"datum.p==4"}],
   "layer":[
    {"transform":[{"filter":"datum.pc==1"}],"mark":{"type":"rect","fill":"transparent","stroke":"#333333","strokeWidth":1},
     "encoding":{"x":{"datum":-1,"type":"quantitative","scale":{"domain":[-1,1],"range":[15,53],"padding":0},"axis":null},"x2":{"datum":1},
      "y":{"datum":0,"type":"quantitative","scale":{"domain":[0,6],"range":[19,134],"padding":0},"axis":null},"y2":{"datum":6}}},
    {"transform":[{"filter":"datum.pc==1"}],"mark":{"type":"rule","color":"#333333","strokeWidth":1},
     "encoding":{"x":{"datum":0,"type":"quantitative","axis":null},"y":{"datum":0,"type":"quantitative","axis":null},"y2":{"datum":6}}},
    {"mark":{"type":"rule","color":"#333333","strokeWidth":1,"strokeDash":[1,4]},
     "encoding":{"x":{"datum":-1,"type":"quantitative","axis":null},"x2":{"datum":1},"y":{"field":"pc","type":"quantitative","axis":null}}},
    {"mark":{"type":"bar","orient":"horizontal","color":"#1a1a1a","height":2.5},
     "encoding":{"x":{"field":"v","type":"quantitative","axis":null,"stack":null},"y":{"field":"pc","type":"quantitative","axis":null}}},
    {"mark":{"type":"text","align":"left","baseline":"middle","dx":3,"font":"Liberation Sans","fontSize":14,"color":"#1a1a1a"},
     "encoding":{"x":{"datum":1,"type":"quantitative","axis":null},"y":{"field":"pc","type":"quantitative","axis":null},"text":{"field":"lab","type":"nominal"}}},
    {"data":{"name":"ticks"},"mark":{"type":"text","align":"center","baseline":"middle","dy":11,"font":"Liberation Sans","fontSize":14,"color":"#1a1a1a"},
     "encoding":{"x":{"field":"v","type":"quantitative","axis":null},"y":{"datum":6,"type":"quantitative","axis":null},"text":{"field":"v","type":"quantitative","format":"d"}}}
   ]}
 ]}
],"spacing":8}
],
"spacing":10
}
